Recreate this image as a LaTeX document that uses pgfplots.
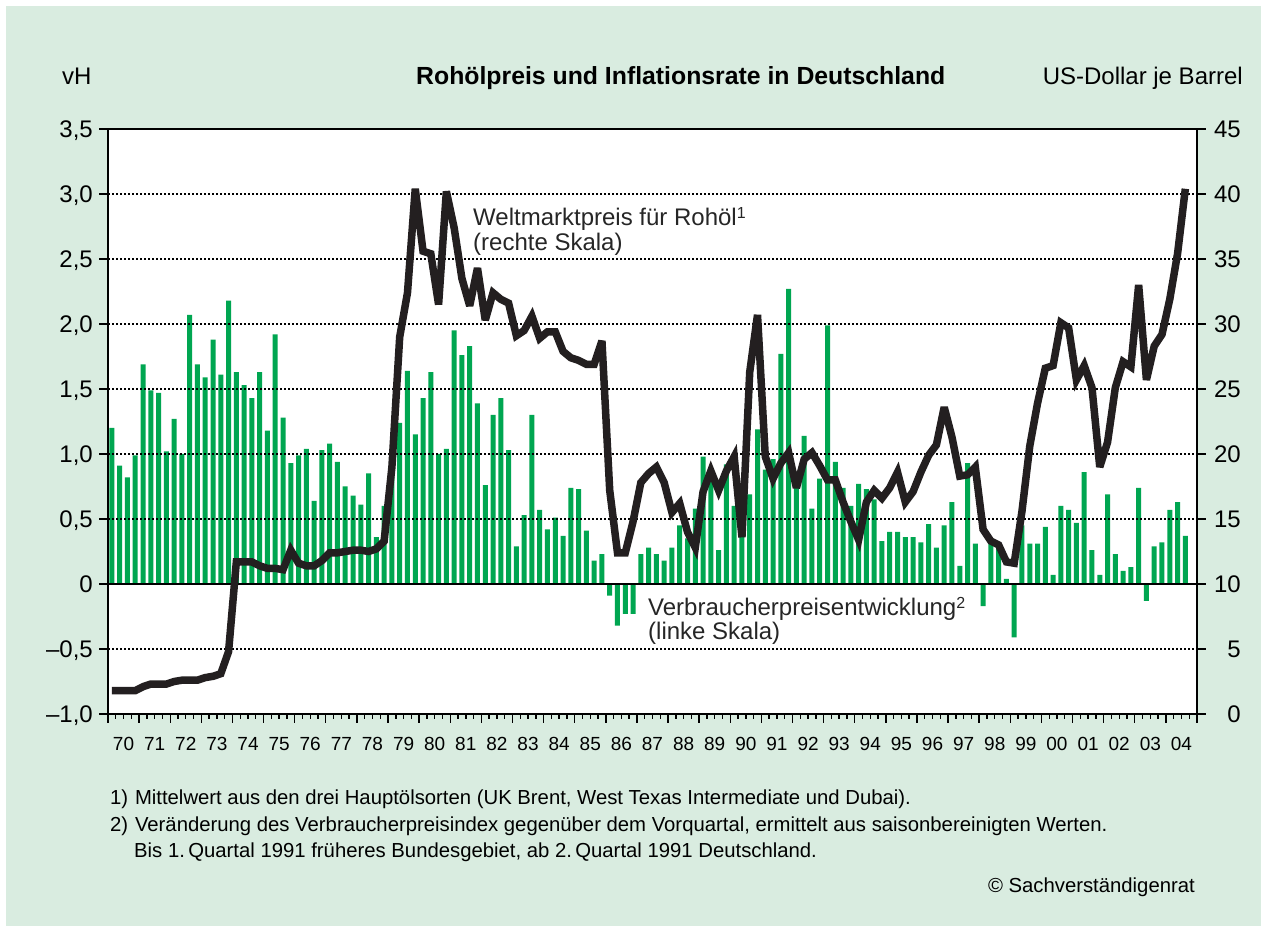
\documentclass[border=0pt]{standalone}
\usepackage{pgfplots}
\usepackage{pgfplotstable}
\pgfplotsset{compat=1.18}
\usepackage{fontspec}
\setmainfont{Liberation Sans}
\definecolor{bgGreen}{RGB}{217,236,224}
\definecolor{barGreen}{RGB}{0,166,81}
\definecolor{lineBlack}{RGB}{35,31,32}
\newcommand{\fnsup}[1]{\raisebox{7pt}{\fontsize{16}{16}\selectfont #1}}

\pgfplotstableread{
q infl oil
0 1.20 1.8
1 0.91 1.8
2 0.82 1.8
3 0.99 1.8
4 1.69 2.1
5 1.49 2.3
6 1.47 2.3
7 1.02 2.3
8 1.27 2.5
9 1.00 2.6
10 2.07 2.6
11 1.69 2.6
12 1.59 2.8
13 1.88 2.9
14 1.61 3.1
15 2.18 4.8
16 1.63 11.7
17 1.53 11.7
18 1.43 11.7
19 1.63 11.4
20 1.18 11.2
21 1.92 11.2
22 1.28 11.1
23 0.93 12.6
24 0.99 11.6
25 1.04 11.4
26 0.64 11.4
27 1.03 11.8
28 1.08 12.4
29 0.94 12.4
30 0.75 12.5
31 0.68 12.6
32 0.61 12.6
33 0.85 12.5
34 0.36 12.7
35 0.60 13.3
36 0.90 19.0
37 1.24 29.0
38 1.64 32.4
39 1.15 40.4
40 1.43 35.6
41 1.63 35.4
42 1.00 31.5
43 1.04 40.2
44 1.95 37.4
45 1.76 33.5
46 1.83 31.4
47 1.39 34.3
48 0.76 30.3
49 1.30 32.4
50 1.43 31.9
51 1.03 31.6
52 0.29 29.1
53 0.53 29.5
54 1.30 30.6
55 0.57 28.9
56 0.42 29.4
57 0.51 29.4
58 0.37 27.9
59 0.74 27.4
60 0.73 27.2
61 0.41 26.9
62 0.18 26.9
63 0.23 28.7
64 -0.09 17.2
65 -0.32 12.4
66 -0.23 12.4
67 -0.23 14.8
68 0.23 17.8
69 0.28 18.5
70 0.23 19.0
71 0.18 17.8
72 0.28 15.5
73 0.45 16.2
74 0.35 14.0
75 0.58 12.8
76 0.98 17.1
77 0.85 18.7
78 0.26 17.2
79 0.92 18.7
80 0.60 19.8
81 0.55 13.6
82 0.69 26.3
83 1.19 30.7
84 0.88 19.8
85 0.96 18.1
86 1.77 19.3
87 2.27 20.1
88 0.80 17.4
89 1.14 19.6
90 0.58 20.1
91 0.81 19.1
92 1.99 18.0
93 0.94 18.0
94 0.74 16.3
95 0.60 14.8
96 0.77 13.4
97 0.73 16.3
98 0.65 17.2
99 0.33 16.6
100 0.40 17.4
101 0.40 18.6
102 0.36 16.3
103 0.36 17.1
104 0.32 18.6
105 0.46 19.9
106 0.28 20.7
107 0.45 23.6
108 0.63 21.3
109 0.14 18.3
110 0.93 18.4
111 0.31 19.0
112 -0.17 14.2
113 0.31 13.3
114 0.31 13.0
115 0.04 11.7
116 -0.41 11.6
117 0.45 15.6
118 0.31 20.6
119 0.31 23.9
120 0.44 26.6
121 0.07 26.8
122 0.60 30.1
123 0.57 29.7
124 0.47 25.7
125 0.86 26.8
126 0.26 25.1
127 0.07 19.0
128 0.69 20.9
129 0.23 25.1
130 0.10 27.1
131 0.13 26.7
132 0.74 33.0
133 -0.13 25.7
134 0.29 28.3
135 0.32 29.2
136 0.57 31.9
137 0.63 35.4
138 0.37 40.4
}\datatable

\begin{document}
\begin{tikzpicture}[x=1pt,y=1pt]
\fill[white] (0,0) rectangle (1267,932);
\fill[bgGreen] (6,6) rectangle (1261,926);
\begin{axis}[
  at={(108pt,218pt)}, anchor=south west,
  width=1089pt, height=585pt, scale only axis,
  xmin=-0.5, xmax=139.5, ymin=-1, ymax=3.5,
  axis background/.style={fill=white},
  axis on top,
  axis line style={line width=1.8pt, black},
  ymajorgrids,
  major grid style={line width=1.5pt, black, dash pattern=on 2pt off 2pt},
  ytick={-1,-0.5,0,0.5,1,1.5,2,2.5,3,3.5},
  yticklabels={{–1,0},{–0,5},0,{0,5},{1,0},{1,5},{2,0},{2,5},{3,0},{3,5}},
  yticklabel style={font=\fontsize{24}{24}\selectfont, inner sep=0pt, anchor=east, text height=17pt, text depth=0pt, xshift=-6pt},
  ytick pos=left, xtick pos=left,
  tick align=outside,
  major tick length=9pt, minor tick length=5pt,
  tick style={line width=1.4pt, black},
  xtick={-0.5,3.5,...,139.5},
  xticklabels={},
  minor x tick num=3,
  extra x ticks={1.5,5.5,...,137.5},
  extra x tick labels={70,71,72,73,74,75,76,77,78,79,80,81,82,83,84,85,86,87,88,89,90,91,92,93,94,95,96,97,98,99,00,01,02,03,04},
  extra x tick style={major tick length=0pt, grid=none,
    xticklabel style={font=\fontsize{19}{19}\selectfont, inner sep=0pt, anchor=north, text height=14pt, text depth=0pt, yshift=-22pt}},
]
\addplot[ybar, bar width=5pt, fill=barGreen, draw=none] table[x=q, y=infl] {\datatable};
\draw[line width=1.8pt, black] (axis cs:-0.5,0) -- (axis cs:139.5,0);
\end{axis}
\begin{axis}[
  at={(108pt,218pt)}, anchor=south west,
  width=1089pt, height=585pt, scale only axis,
  xmin=-0.5, xmax=139.5, ymin=0, ymax=45,
  axis y line*=right, axis x line=none,
  y axis line style={line width=1.8pt, black},
  ytick={0,5,...,45},
  yticklabels={0,5,10,15,20,25,30,35,40,45},
  yticklabel style={font=\fontsize{24}{24}\selectfont, inner sep=0pt, anchor=east, text height=17pt, text depth=0pt, xshift=35pt},
  tick align=outside, major tick length=9pt,
  tick style={line width=1.4pt, black},
]
\addplot[lineBlack, line width=7.5pt, line join=miter, miter limit=4] table[x=q, y=oil] {\datatable};
\end{axis}
\node[anchor=base west, inner sep=0pt, font=\fontsize{24}{24}\selectfont] at (62,847) {vH};
\node[anchor=base west, inner sep=0pt, font=\fontsize{24.8}{24.8}\selectfont\bfseries] at (416,847) {Rohölpreis und Inflationsrate in Deutschland};
\node[anchor=base east, inner sep=0pt, font=\fontsize{24}{24}\selectfont] at (1243,847) {US-Dollar je Barrel};
\node[anchor=base west, inner sep=0pt, font=\fontsize{24}{24}\selectfont, text=black!85] at (473,706) {Weltmarktpreis für Rohöl\fnsup{1}};
\node[anchor=base west, inner sep=0pt, font=\fontsize{24}{24}\selectfont, text=black!85] at (473,681) {(rechte Skala)};
\node[anchor=base west, inner sep=0pt, font=\fontsize{24}{24}\selectfont, text=black!85] at (648,316) {Verbraucherpreisentwicklung\fnsup{2}};
\node[anchor=base west, inner sep=0pt, font=\fontsize{24}{24}\selectfont, text=black!85] at (648,292) {(linke Skala)};
\node[anchor=base west, inner sep=0pt, font=\fontsize{20.3}{20.3}\selectfont] at (110,127) {1)\,\,Mittelwert aus den drei Hauptölsorten (UK Brent, West Texas Intermediate und Dubai).};
\node[anchor=base west, inner sep=0pt, font=\fontsize{20.3}{20.3}\selectfont] at (110,100) {2)\,\,Veränderung des Verbraucherpreisindex gegenüber dem Vorquartal, ermittelt aus saisonbereinigten Werten.};
\node[anchor=base west, inner sep=0pt, font=\fontsize{20.3}{20.3}\selectfont] at (134,74) {Bis 1.\,Quartal 1991 früheres Bundesgebiet, ab 2.\,Quartal 1991 Deutschland.};
\node[anchor=base east, inner sep=0pt, font=\fontsize{20.3}{20.3}\selectfont] at (1195,39) {© Sachverständigenrat};
\end{tikzpicture}
\end{document}
